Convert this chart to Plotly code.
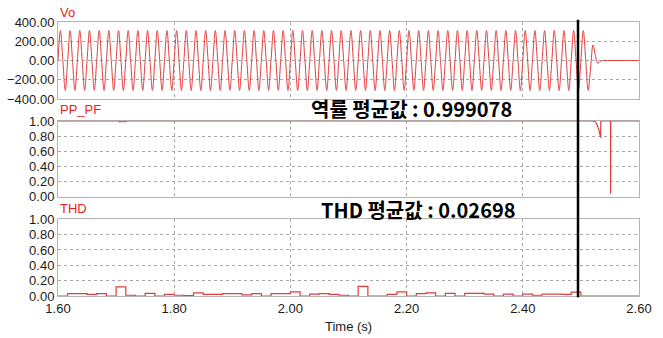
import plotly.graph_objects as go

# ---------------- data ----------------
t_start = 1.6
# Vo: samples every quarter cycle of 60 Hz (zero, peak, zero, trough) starting at 1.60 s
vo_step = 1 / 240
vo_steady = [0, 311, 0, -311] * 54
vo_tail = [0, 311, 0, -311, -80, 160, 50, -30, -10] + [0] * 16
vo_values = vo_steady + vo_tail

# PP_PF: breakpoints (time, value)
pf_time = [1.60, 1.705, 1.7055, 1.717, 1.7175, 2.520, 2.525, 2.528, 2.531, 2.5335, 2.534, 2.5342,
           2.551, 2.5511, 2.5513, 2.60]
pf_value = [1.0, 1.0, 0.99, 0.99, 1.0, 1.0, 0.99, 0.95, 0.88, 0.78, 0.78, 1.0,
            1.0, 0.04, 1.0, 1.0]

# THD: one value per 60 Hz cycle starting at 1.60 s
thd_step = 1 / 60
thd_values = [0, 0.03, 0.03, 0.02, 0.03, 0, 0.12, 0.01, 0, 0.035,
              0, 0.02, 0.01, 0.005, 0.04, 0.02, 0.02, 0.03, 0.03, 0.015,
              0.03, 0, 0.03, 0.03, 0.055, 0, 0.025, 0.03, 0.02, 0.01,
              0, 0.125, 0, 0, 0.02, 0.055, 0, 0.03, 0.04, 0,
              0.035, 0, 0.035, 0.035, 0.025, 0, 0.025, 0, 0.025, 0.01,
              0.025, 0.025, 0.02, 0.05, 0, 0, 0, 0, 0, 0, 0]

cursor_time = 2.495
x_ticks = [1.6, 1.8, 2.0, 2.2, 2.4, 2.6]
vo_ticks = [-400, -200, 0, 200, 400]
unit_ticks = [0.0, 0.2, 0.4, 0.6, 0.8, 1.0]

panel_titles = ["Vo", "PP_PF", "THD"]
pf_note = "역률 평균값 : 0.999078"
thd_note = "THD 평균값 : 0.02698"
x_title = "Time (s)"

# ---------------- figure ----------------
RED = "rgb(224,60,60)"
FONT = "Arial, Liberation Sans, sans-serif"

fig = go.Figure()
fig.add_trace(go.Scatter(y=vo_values, x0=t_start, dx=vo_step, mode="lines",
                         line=dict(color=RED, width=1, shape="spline", smoothing=1.0),
                         xaxis="x", yaxis="y", showlegend=False, hoverinfo="skip"))
fig.add_trace(go.Scatter(x=pf_time, y=pf_value, mode="lines",
                         line=dict(color=RED, width=1.2),
                         xaxis="x2", yaxis="y2", showlegend=False, hoverinfo="skip"))
fig.add_trace(go.Scatter(y=thd_values, x0=t_start, dx=thd_step, mode="lines",
                         line=dict(color=RED, width=1.2, shape="hv"),
                         xaxis="x3", yaxis="y3", showlegend=False, hoverinfo="skip"))

grid = dict(showgrid=True, gridcolor="#a8a8a8", griddash="dot", gridwidth=1,
            showline=True, linecolor="#b4b4b4", linewidth=1, mirror=True,
            zeroline=False, ticks="", automargin=False,
            tickfont=dict(family=FONT, size=13, color="#1a1a1a"))

xcommon = dict(range=[1.6, 2.6], tickvals=x_ticks, tickformat=".2f", **grid)

fig.update_layout(
    width=663, height=338,
    margin=dict(l=58, r=24, t=22, b=42),
    paper_bgcolor="white", plot_bgcolor="white",
    font=dict(family=FONT),
    xaxis=dict(anchor="y", showticklabels=False, **xcommon),
    xaxis2=dict(anchor="y2", showticklabels=False, layer="below traces", **xcommon),
    xaxis3=dict(anchor="y3", showticklabels=True, **xcommon),
    yaxis=dict(domain=[0.719, 1.0], range=[-400, 400], tickvals=vo_ticks,
               tickformat=".2f", anchor="x", **grid),
    yaxis2=dict(domain=[0.3624, 0.6398], range=[0, 1.004], tickvals=unit_ticks,
                tickformat=".2f", anchor="x2", layer="below traces", **grid),
    yaxis3=dict(domain=[0.0, 0.280], range=[0, 1], tickvals=unit_ticks,
                tickformat=".2f", anchor="x3", **grid),
)

# cursor line through all panels
fig.add_shape(type="line", xref="x", yref="paper", x0=cursor_time, x1=cursor_time,
              y0=-0.005, y1=1.008, line=dict(color="black", width=2.5))

# panel titles
for title, ypos in zip(panel_titles, [1.036, 0.679, 0.321]):
    fig.add_annotation(text=title, xref="paper", yref="paper", x=0, y=ypos,
                       xanchor="left", yanchor="middle", showarrow=False,
                       font=dict(family=FONT, size=13, color="rgb(230,30,30)"))

# mean-value notes
KFONT = "Noto Sans CJK KR, Noto Sans, sans-serif"
fig.add_annotation(text=f"<b>{pf_note}</b>", xref="paper", yref="paper", x=0.609, y=0.686,
                   xanchor="center", yanchor="middle", showarrow=False,
                   font=dict(family=KFONT, size=20, color="black"))
fig.add_annotation(text=f"<b>{thd_note}</b>", xref="paper", yref="paper", x=0.621, y=0.3175,
                   xanchor="center", yanchor="middle", showarrow=False,
                   font=dict(family=KFONT, size=20, color="black"))

fig.add_annotation(text=x_title, xref="paper", yref="paper", x=0.5, y=-0.113,
                   xanchor="center", yanchor="middle", showarrow=False,
                   font=dict(family=FONT, size=13, color="#1a1a1a"))

# remove the default 8px page margin so the figure sits at the window's corner
fig.write_html("out.html",
               config={"displayModeBar": False, "staticPlot": True},
               post_script="document.body.style.margin='0';document.body.style.overflow='hidden';")
